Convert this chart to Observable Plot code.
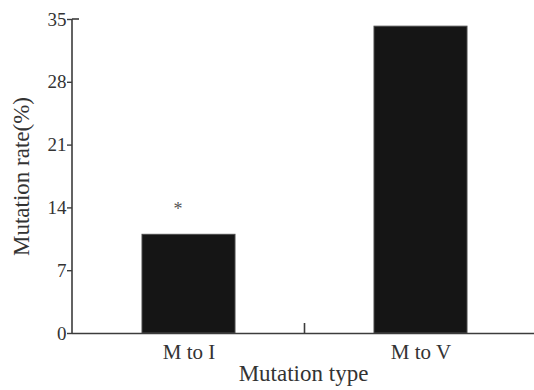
<!DOCTYPE html>
<html><head><meta charset="utf-8">
<script src="https://cdn.jsdelivr.net/npm/d3@7"></script>
<script src="https://cdn.jsdelivr.net/npm/@observablehq/plot@0.6"></script>
<style>body{margin:0;background:#fff;}</style>
</head><body><div id="chart"></div>
<script>
const categories = ["M to I", "M to V"];
const rates = [11.0, 34.2];
const significance = ["*", ""];
const significanceRate = [14.1, null];
const yTicks = [0, 7, 14, 21, 28, 35];
const xLabel = "Mutation type";
const yLabel = "Mutation rate(%)";

const FONT = "Liberation Serif";
const data = categories.map((c, i) => ({type: c, rate: rates[i], sig: significance[i], sigY: significanceRate[i]}));

const axisLines = (index, scales, values, dim) => {
  const x = scales.x, y = scales.y;
  const bw = x.bandwidth ? x.bandwidth() : 0;
  const g = d3.create("svg:g").attr("stroke", "#3c3c3c").attr("stroke-width", 1.6).attr("fill", "none");
  const x0 = dim.marginLeft;
  const yTop = y(d3.max(yTicks)), yBot = y(0);
  g.append("line").attr("x1", x0).attr("x2", x0).attr("y1", yBot).attr("y2", yTop);
  g.append("line").attr("x1", x0).attr("x2", x0 + 7).attr("y1", yTop).attr("y2", yTop);
  for (let i = 1; i < categories.length; i++) {
    const bx = (x(categories[i - 1]) + x(categories[i])) / 2 + bw / 2;
    g.append("line").attr("x1", bx).attr("x2", bx).attr("y1", yBot).attr("y2", yBot - 10);
  }
  return g.node();
};

const chart = Plot.plot({
  width: 534,
  height: 390,
  marginLeft: 72,
  marginRight: 0,
  marginTop: 19,
  marginBottom: 57,
  style: {fontFamily: FONT},
  x: {domain: categories, paddingInner: 0.597, paddingOuter: 0.293, align: 0.512, axis: null},
  y: {domain: [0, 35], axis: null},
  marks: [
    Plot.barY(data, {x: "type", y: "rate", fill: "#151515", stroke: "#4a4a4a", strokeWidth: 1}),
    Plot.ruleY([0], {stroke: "#3c3c3c", strokeWidth: 1.6}),
    axisLines,
    Plot.axisY({ticks: yTicks, tickSize: 5, tickPadding: 1, label: null, fontSize: 19, fontFamily: FONT, stroke: "#3c3c3c", strokeWidth: 1.4, fill: "#333"}),
    Plot.axisX({tickSize: 0, tickPadding: 11, label: null, fontSize: 21, fontFamily: FONT, fill: "#333"}),
    Plot.text(data.filter(d => d.sig), {x: "type", y: "sigY", text: "sig", dx: -11, dy: 2, fontSize: 18, fontFamily: FONT, fill: "#555"}),
    Plot.text([yLabel], {frameAnchor: "left", textAnchor: "middle", rotate: -90, dx: -51, fontSize: 23, fontFamily: FONT, fill: "#333"}),
    Plot.text([xLabel], {frameAnchor: "bottom", textAnchor: "middle", dy: 47, fontSize: 23, fontFamily: FONT, fill: "#333"})
  ]
});
document.getElementById("chart").append(chart);
</script></body></html>
